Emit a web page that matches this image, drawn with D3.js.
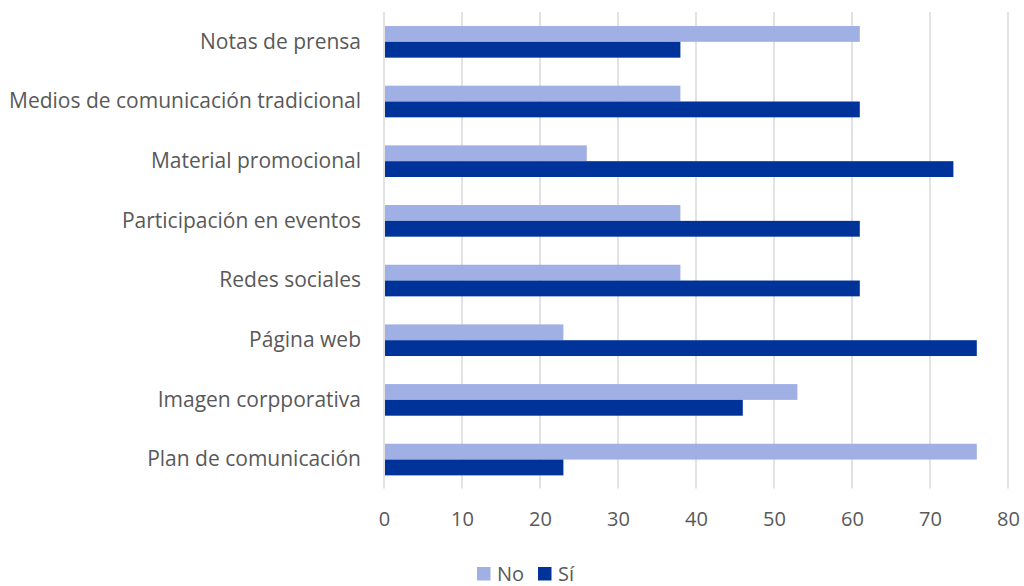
<!DOCTYPE html>
<html><head><meta charset="utf-8">
<script src="https://cdn.jsdelivr.net/npm/d3@7"></script>
<style>body{margin:0;background:#fff}svg{display:block}text{font-family:"Open Sans",sans-serif;fill:#595959}</style>
</head><body><svg id="c" width="1024" height="586"></svg>
<script>
const categories = ["Notas de prensa","Medios de comunicación tradicional","Material promocional","Participación en eventos","Redes sociales","Página web","Imagen corpporativa","Plan de comunicación"];
const seriesNames = ["No","Sí"];
const noValues = [61,38,26,38,38,23,53,76];
const siValues = [38,61,73,61,61,76,46,23];
const xTicks = [0,10,20,30,40,50,60,70,80];
const colors = ["#a0b0e4","#003399"];

const svg = d3.select("#c");
const pLeft = 384, pRight = 1008, pTop = 12, pBottom = 489.4;
const x = d3.scaleLinear().domain([0,80]).range([pLeft,pRight]);
const y = d3.scaleBand().domain(categories).range([pTop,pBottom]).paddingInner(0.47).paddingOuter(0.235);
const y2 = d3.scaleBand().domain(seriesNames).range([0,y.bandwidth()]);

svg.append("g").selectAll("line").data(xTicks).join("line")
  .attr("x1",d=>x(d)).attr("x2",d=>x(d)).attr("y1",pTop).attr("y2",pBottom-1)
  .attr("stroke","#d9d9d9").attr("stroke-width",1.5);

const data = categories.map((c,i)=>({c, vals:[noValues[i],siValues[i]]}));
const g = svg.append("g");
data.forEach(d=>{
  seriesNames.forEach((s,j)=>{
    g.append("rect").attr("x",x(0)+1).attr("y",y(d.c)+y2(s))
     .attr("width",x(d.vals[j])-x(0)-1).attr("height",y2.bandwidth())
     .attr("fill",colors[j]);
  });
});

const xa = svg.append("g").attr("transform",`translate(0,${pBottom})`)
  .call(d3.axisBottom(x).tickValues(xTicks).tickSize(0).tickPadding(22));
xa.select(".domain").remove();
xa.selectAll("text").style("font-size","20px").style("font-family","'Open Sans',sans-serif").attr("fill","#595959");

const ya = svg.append("g").attr("transform",`translate(${pLeft},0)`)
  .call(d3.axisLeft(y).tickSize(0).tickPadding(23));
ya.select(".domain").remove();
ya.selectAll("text").style("font-size","21px").style("font-family","'Open Sans',sans-serif").attr("fill","#595959");

const leg = svg.append("g");
const legX = [477,538];
seriesNames.forEach((s,j)=>{
  leg.append("rect").attr("x",legX[j]).attr("y",567).attr("width",13.5).attr("height",13.5).attr("fill",colors[j]);
  leg.append("text").attr("x",legX[j]+20).attr("y",574).attr("dy","0.35em")
    .style("font-size","20px").text(s);
});
</script></body></html>
